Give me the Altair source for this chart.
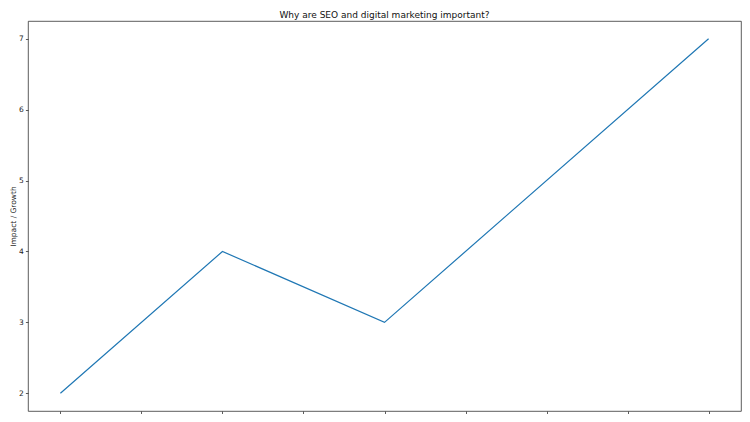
import altair as alt
import pandas as pd

# Data (vertices of the line)
step = [0, 2, 4, 8]
impact = [2, 4, 3, 7]
x_ticks = [0, 1, 2, 3, 4, 5, 6, 7, 8]
y_ticks = [2, 3, 4, 5, 6, 7]

df = pd.DataFrame({"step": step, "impact": impact})

FONT = "DejaVu Sans"

chart = (
    alt.Chart(df)
    .mark_line(color="#1f77b4", strokeWidth=1.2)
    .encode(
        x=alt.X(
            "step:Q",
            scale=alt.Scale(domain=[-0.4, 8.4], nice=False, zero=False),
            axis=alt.Axis(
                values=x_ticks,
                labels=False,
                title=None,
                grid=False,
                domain=False,
                tickSize=3,
                tickColor="#333",
                tickWidth=0.8,
            ),
        ),
        y=alt.Y(
            "impact:Q",
            scale=alt.Scale(domain=[1.75, 7.25], nice=False, zero=False),
            axis=alt.Axis(
                values=y_ticks,
                format="d",
                title="Impact / Growth",
                grid=False,
                domain=False,
                tickSize=2.6,
                tickColor="#333",
                tickWidth=0.8,
                labelFontSize=7.5,
                labelColor="#222",
                labelFont=FONT,
                labelPadding=2,
                titleFontSize=7.5,
                titleFont=FONT,
                titleFontWeight="normal",
                titleColor="#222",
                titlePadding=1.5,
            ),
        ),
    )
    .properties(
        width=713,
        height=390,
        title=alt.TitleParams(
            "Why are SEO and digital marketing important?",
            font=FONT,
            fontSize=9,
            fontWeight="normal",
            color="#111",
            offset=1,
            anchor="middle",
        ),
        autosize=alt.AutoSizeParams(type="none"),
        padding={"left": 20, "top": 13, "right": 1, "bottom": 3},
    )
    .configure_view(stroke="#333", strokeWidth=0.8)
)

chart.save("out.html", embed_options={"renderer": "svg", "actions": False})
